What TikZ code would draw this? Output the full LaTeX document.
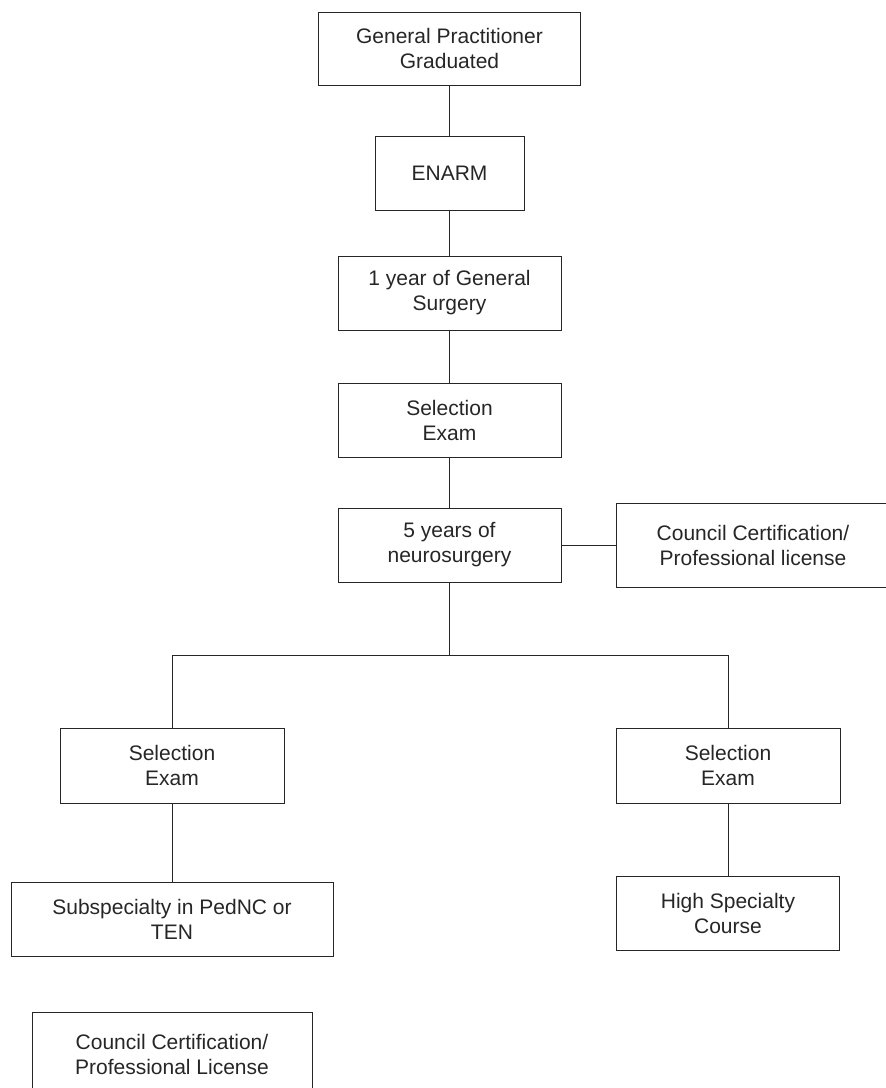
\documentclass[tikz,border=0pt]{standalone}
\usepackage{fontspec}
\setmainfont{Liberation Sans}
\tikzset{ln/.style={draw=black!85, line width=1pt},
  blk/.style={draw=black!85, line width=1pt, inner sep=0pt, minimum height=74pt, align=center,
    text=black!85, font=\fontsize{21}{25}\selectfont}}

\begin{document}
\begin{tikzpicture}[x=1pt, y=-1pt]
  \useasboundingbox (0,0) rectangle (886,1088);
  % main trunk
  \node[blk, minimum width=262pt, minimum height=73pt] (grad) at (449.5,48.5) {General Practitioner\\Graduated};
  \node[blk, minimum width=149pt] (enarm)   at (449.5,173) {ENARM};
  \node[blk, minimum width=223pt] (gensurg) at (449.5,293) {1 year of General\\Surgery};
  \node[blk, minimum width=223pt] (selA)    at (449.5,420) {Selection\\Exam};
  \node[blk, minimum width=223pt] (neuro)   at (449.5,545) {5 years of\\neurosurgery};
  \node[blk, minimum width=274pt, minimum height=84pt] (certA) at (753,545) {Council Certification/\\Professional license};
  \foreach \a/\b in {grad/enarm, enarm/gensurg, gensurg/selA, selA/neuro}{\draw[ln] (\a.south) -- (\b.north);}
  \draw[ln] (neuro.east) -- (certA.west);
  % the two branches
  \coordinate (split) at (449.5,655);
  \node[blk, minimum width=224pt, minimum height=75pt] (selL) at (172,765.5) {Selection\\Exam};
  \node[blk, minimum width=224pt, minimum height=75pt] (selR) at (728,765.5) {Selection\\Exam};
  \node[blk, minimum width=322pt] (subsp) at (172,919) {Subspecialty in PedNC or\\TEN};
  \node[blk, minimum width=223pt] (highc) at (728,913) {High Specialty\\Course};
  \node[blk, minimum width=280pt, minimum height=84pt] (certB) at (172,1054) {Council Certification/\\Professional License};
  \draw[ln] (neuro.south) -- (split) -| (selL.north);
  \draw[ln] (split) -| (selR.north);
  \foreach \a/\b in {selL/subsp, selR/highc}{\draw[ln] (\a.south) -- (\b.north);}
\end{tikzpicture}
\end{document}
